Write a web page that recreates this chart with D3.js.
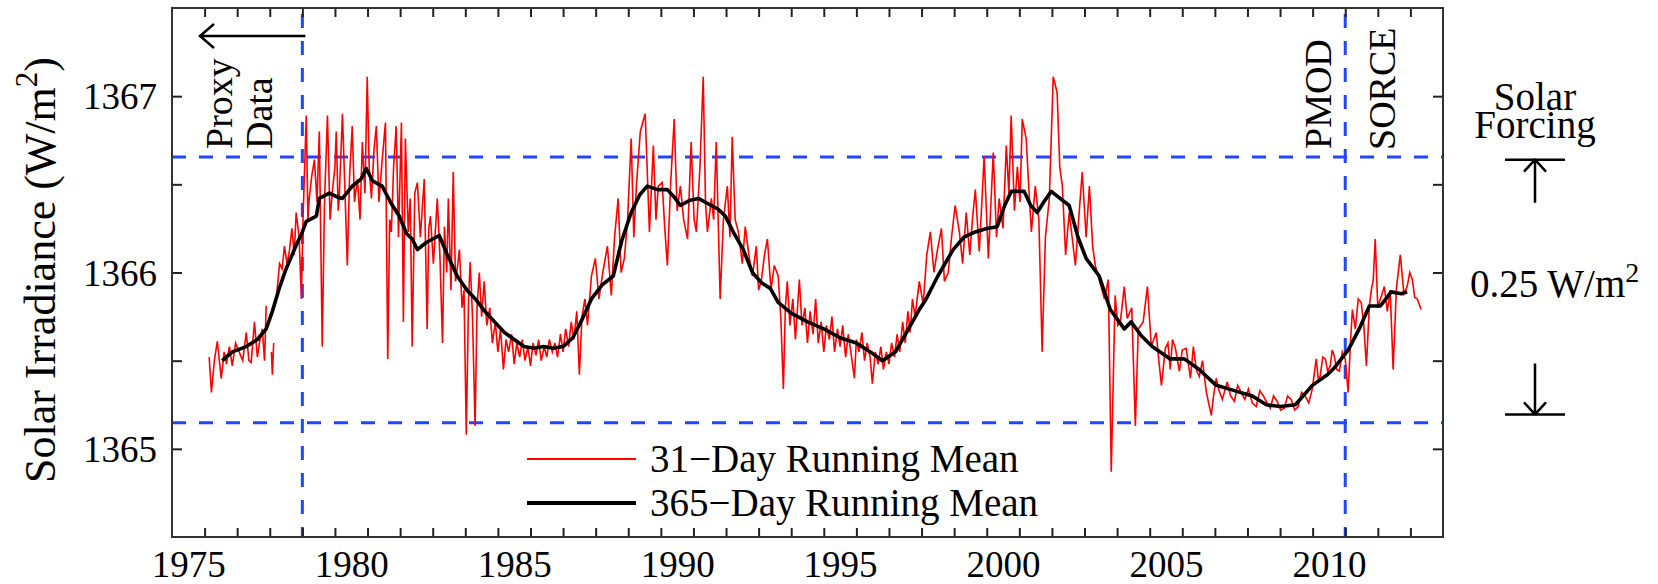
<!DOCTYPE html>
<html>
<head>
<meta charset="utf-8">
<script src="https://cdn.jsdelivr.net/npm/d3@7"></script>
<style>
body { margin: 0; background: #fff; }
svg { display: block; font-family: "Liberation Serif", "Times New Roman", serif; }
</style>
</head>
<body>
<svg id="chart" width="1658" height="584"></svg>
<script>
// 31-day running mean (null = gap in the record)
var redYears = [
  1975.64, 1975.71, 1975.80, 1975.89, 1976.01, 1976.10, 1976.17, 1976.26, 1976.35, 1976.45,
  1976.56, 1976.67, 1976.78, 1976.86, 1976.93, 1977.03, 1977.12, 1977.20, 1977.27, 1977.34,
  1977.39, 1977.45, 1977.55, 1977.58, 1977.62, 1977.66,
  1977.70, 1977.80, 1977.88, 1977.95, 1978.03, 1978.10, 1978.18, 1978.25, 1978.31, 1978.40,
  1978.47, 1978.52, 1978.62, 1978.67, 1978.71, 1978.79, 1978.87, 1978.95, 1979.02, 1979.11,
  1979.18, 1979.27, 1979.35, 1979.42, 1979.50, 1979.54, 1979.60, 1979.63, 1979.73, 1979.80,
  1979.88, 1979.95, 1980.03, 1980.10, 1980.19, 1980.27, 1980.34, 1980.42, 1980.49, 1980.55,
  1980.62, 1980.70, 1980.77, 1980.85, 1980.95, 1981.05, 1981.12, 1981.18, 1981.23, 1981.30,
  1981.38, 1981.45, 1981.54, 1981.60, 1981.66, 1981.75, 1981.81, 1981.87, 1981.95, 1982.03,
  1982.12, 1982.24, 1982.33, 1982.38, 1982.43, 1982.52, 1982.64, 1982.72, 1982.80, 1982.86,
  1982.93, 1982.98, 1983.06, 1983.13, 1983.20, 1983.27, 1983.32, 1983.40, 1983.46, 1983.53,
  1983.60, 1983.65, 1983.72, 1983.80, 1983.86, 1983.93, 1984.00, 1984.08, 1984.16, 1984.25,
  1984.33, 1984.42, 1984.50, 1984.58, 1984.67, 1984.75, 1984.83, 1984.92, 1985.00, 1985.08,
  1985.17, 1985.25, 1985.33, 1985.42, 1985.50, 1985.58, 1985.67, 1985.75, 1985.83, 1985.92,
  1986.00, 1986.08, 1986.17, 1986.25, 1986.33, 1986.42, 1986.50, 1986.58, 1986.67, 1986.75,
  1986.83, 1986.92, 1987.00, 1987.08, 1987.17, 1987.25, 1987.37, 1987.49, 1987.60, 1987.72,
  1987.86, 1987.98, 1988.08, 1988.19, 1988.28, 1988.38, 1988.48, 1988.59, 1988.67, 1988.75,
  1988.87, 1989.02, 1989.15, 1989.27, 1989.35, 1989.42, 1989.54, 1989.62, 1989.70, 1989.80,
  1989.91, 1990.00, 1990.10, 1990.20, 1990.32, 1990.43, 1990.52, 1990.59, 1990.70, 1990.80,
  1990.87, 1990.93, 1991.05, 1991.12, 1991.20, 1991.32, 1991.42, 1991.54, 1991.62, 1991.69,
  1991.78, 1991.88, 1992.00, 1992.09, 1992.20, 1992.31, 1992.43, 1992.50, 1992.58, 1992.68,
  1992.77, 1992.88, 1992.98, 1993.10, 1993.18, 1993.26, 1993.32, 1993.38, 1993.46, 1993.55,
  1993.63, 1993.75, 1993.83, 1993.92, 1994.00, 1994.08, 1994.17, 1994.25, 1994.33, 1994.42,
  1994.50, 1994.58, 1994.67, 1994.75, 1994.83, 1994.92, 1995.00, 1995.08, 1995.17, 1995.25,
  1995.33, 1995.44, 1995.50, 1995.58, 1995.67, 1995.75, 1995.83, 1995.92, 1995.99, 1996.08,
  1996.17, 1996.25, 1996.33, 1996.42, 1996.50, 1996.58, 1996.67, 1996.75, 1996.83, 1996.92,
  1997.00, 1997.08, 1997.15, 1997.22, 1997.30, 1997.43, 1997.55, 1997.66, 1997.77, 1997.88,
  1997.98, 1998.11, 1998.20, 1998.32, 1998.42, 1998.53, 1998.66, 1998.76, 1998.87, 1998.98,
  1999.06, 1999.15, 1999.27, 1999.35, 1999.42, 1999.55, 1999.63, 1999.70, 1999.80, 1999.88,
  2000.00, 2000.10, 2000.18, 2000.25, 2000.35, 2000.44, 2000.52, 2000.59, 2000.71, 2000.80,
  2000.87, 2000.99, 2001.10, 2001.20, 2001.30, 2001.42, 2001.54, 2001.66, 2001.74, 2001.82,
  2001.92, 2002.03, 2002.12, 2002.22, 2002.32, 2002.43, 2002.55, 2002.65, 2002.75, 2002.83,
  2002.95, 2003.11, 2003.23, 2003.32, 2003.44, 2003.52, 2003.60, 2003.72, 2003.81, 2003.95,
  2004.06, 2004.15, 2004.30, 2004.43, 2004.55, 2004.70, 2004.78, 2004.86, 2004.98, 2005.06,
  2005.13, 2005.20, 2005.29, 2005.41, 2005.50, 2005.62, 2005.75, 2005.84, 2005.93, 2006.02,
  2006.12, 2006.24, 2006.39, 2006.46, 2006.54, 2006.63, 2006.73, 2006.88, 2006.98, 2007.10,
  2007.20, 2007.31, 2007.42, 2007.53, 2007.65, 2007.77, 2007.88, 2007.99, 2008.10, 2008.20,
  2008.30, 2008.41, 2008.52, 2008.63, 2008.73, 2008.84, 2008.95, 2009.06, 2009.16, 2009.27,
  2009.38, 2009.49, 2009.61, 2009.67, 2009.73, 2009.81, 2009.89, 2009.96, 2010.04, 2010.10,
  2010.16, 2010.24, 2010.32, 2010.41, 2010.50, 2010.59, 2010.66, 2010.72, 2010.81, 2010.90,
  2010.99, 2011.07, 2011.15, 2011.24, 2011.30, 2011.36, 2011.42, 2011.50, 2011.58, 2011.70,
  2011.79, 2011.88, 2011.97, 2012.07, 2012.19, 2012.30, 2012.40, 2012.48, 2012.56, 2012.63,
  2012.71, 2012.83
];
var redValues = [
  1365.52, 1365.32, 1365.50, 1365.61, 1365.40, 1365.55, 1365.48, 1365.58, 1365.47, 1365.60,
  1365.55, 1365.50, 1365.66, 1365.50, 1365.49, 1365.72, 1365.52, 1365.62, 1365.68, 1365.50,
  1365.81, null, 1365.55, 1365.42, 1365.60, null,
  1365.85, 1366.05, 1366.02, 1366.15, 1366.05, 1366.12, 1366.25, 1366.10, 1366.34, 1366.20,
  1365.85, 1366.30, 1366.89, 1366.30, 1366.42, 1366.55, 1366.64, 1366.40, 1366.80, 1365.58,
  1366.40, 1366.89, 1366.30, 1366.46, 1366.60, 1366.80, 1366.35, 1366.42, 1366.90, 1366.50,
  1366.04, 1366.55, 1366.83, 1366.40, 1366.53, 1366.30, 1366.74, 1366.45, 1367.11, 1366.60,
  1366.42, 1366.70, 1366.83, 1366.40, 1366.64, 1366.85, 1365.51, 1366.30, 1366.23, 1366.60,
  1366.83, 1366.20, 1366.85, 1365.72, 1366.76, 1366.23, 1366.42, 1365.58, 1366.45, 1366.51,
  1366.20, 1366.53, 1365.68, 1366.25, 1366.32, 1366.05, 1366.42, 1366.10, 1365.60, 1366.26,
  1366.00, 1366.42, 1365.90, 1366.57, 1365.95, 1366.05, 1366.13, 1365.80, 1365.90, 1365.08,
  1365.85, 1366.06, 1365.75, 1365.13, 1365.80, 1366.00, 1365.75, 1365.95, 1365.70, 1365.80,
  1365.60, 1365.72, 1365.55, 1365.68, 1365.45, 1365.62, 1365.55, 1365.65, 1365.48, 1365.60,
  1365.52, 1365.62, 1365.50, 1365.58, 1365.47, 1365.60, 1365.53, 1365.62, 1365.50, 1365.58,
  1365.52, 1365.62, 1365.55, 1365.60, 1365.52, 1365.65, 1365.55, 1365.68, 1365.58, 1365.72,
  1365.62, 1365.78, 1365.42, 1365.75, 1365.85, 1365.70, 1365.98, 1366.08, 1365.85, 1366.00,
  1366.15, 1365.87, 1366.20, 1366.42, 1366.00, 1366.08, 1366.30, 1366.76, 1366.20, 1366.49,
  1366.80, 1366.90, 1366.23, 1366.72, 1366.30, 1366.49, 1366.51, 1366.25, 1366.04, 1366.50,
  1366.87, 1366.35, 1366.49, 1366.30, 1366.19, 1366.74, 1366.30, 1366.23, 1366.60, 1367.11,
  1366.40, 1366.23, 1366.42, 1366.30, 1366.74, 1365.85, 1366.30, 1366.49, 1366.20, 1366.77,
  1366.30, 1366.23, 1366.05, 1366.26, 1366.10, 1365.98, 1366.15, 1365.90, 1365.95, 1366.10,
  1366.19, 1365.90, 1366.04, 1365.98, 1365.75, 1365.34, 1365.80, 1365.95, 1365.70, 1365.85,
  1365.62, 1365.96, 1365.70, 1365.80, 1365.60, 1365.78, 1365.65, 1365.85, 1365.60, 1365.72,
  1365.55, 1365.70, 1365.62, 1365.75, 1365.55, 1365.68, 1365.58, 1365.70, 1365.52, 1365.65,
  1365.55, 1365.40, 1365.62, 1365.55, 1365.66, 1365.50, 1365.60, 1365.52, 1365.37, 1365.55,
  1365.48, 1365.58, 1365.45, 1365.55, 1365.48, 1365.60, 1365.52, 1365.65, 1365.55, 1365.72,
  1365.60, 1365.78, 1365.66, 1365.85, 1365.75, 1365.95, 1365.82, 1366.10, 1366.23, 1366.00,
  1366.12, 1366.25, 1365.95, 1366.00, 1366.20, 1366.38, 1366.23, 1366.05, 1366.34, 1366.10,
  1366.30, 1366.47, 1366.12, 1366.40, 1366.66, 1366.08, 1366.40, 1366.68, 1366.20, 1366.42,
  1366.25, 1366.72, 1366.45, 1366.89, 1366.35, 1366.60, 1366.40, 1366.87, 1366.76, 1366.45,
  1366.23, 1366.49, 1366.30, 1365.55, 1366.20, 1366.42, 1367.11, 1367.02, 1366.60, 1366.49,
  1366.10, 1366.34, 1366.20, 1366.04, 1366.30, 1366.57, 1366.20, 1366.49, 1366.15, 1366.04,
  1365.96, 1365.85, 1365.96, 1364.87, 1365.87, 1365.70, 1365.72, 1365.92, 1365.74, 1365.80,
  1365.13, 1365.68, 1365.72, 1365.92, 1365.58, 1365.66, 1365.50, 1365.36, 1365.57, 1365.60,
  1365.45, 1365.62, 1365.57, 1365.44, 1365.56, 1365.57, 1365.40, 1365.58, 1365.45, 1365.41,
  1365.50, 1365.32, 1365.19, 1365.30, 1365.40, 1365.33, 1365.28, 1365.38, 1365.30, 1365.27,
  1365.36, 1365.32, 1365.28, 1365.34, 1365.26, 1365.24, 1365.33, 1365.30, 1365.26, 1365.23,
  1365.30, 1365.27, 1365.22, 1365.23, 1365.30, 1365.28, 1365.22, 1365.24, 1365.32, 1365.30,
  1365.26, 1365.34, 1365.51, 1365.40, 1365.41, 1365.52, 1365.51, 1365.44, 1365.47, 1365.56,
  1365.53, 1365.45, 1365.44, 1365.55, 1365.51, 1365.32, 1365.60, 1365.79, 1365.68, 1365.85,
  1365.83, 1365.70, 1365.47, 1365.81, 1365.90, 1365.96, 1366.19, 1365.80, 1365.85, 1365.92,
  1365.78, 1365.90, 1365.45, 1365.91, 1366.10, 1365.88, 1365.92, 1366.00, 1365.96, 1365.86,
  1365.85, 1365.79
];

// 365-day running mean
var blackYears = [
  1976.04, 1976.35, 1976.78, 1977.12, 1977.39, 1977.58, 1977.79, 1978.00, 1978.30, 1978.50,
  1978.62, 1978.93, 1979.02, 1979.33, 1979.55, 1979.73, 1980.03, 1980.30, 1980.46, 1980.65,
  1980.95, 1981.20, 1981.47, 1981.70, 1981.87, 1982.03, 1982.30, 1982.50, 1982.70, 1982.95,
  1983.25, 1983.55, 1983.81, 1984.10, 1984.40, 1984.70, 1985.00, 1985.30, 1985.60, 1985.90,
  1986.20, 1986.50, 1986.80, 1987.10, 1987.37, 1987.70, 1988.04, 1988.30, 1988.59, 1988.85,
  1989.08, 1989.40, 1989.70, 1989.90, 1990.10, 1990.40, 1990.65, 1991.05, 1991.25, 1991.48,
  1991.75, 1992.03, 1992.31, 1992.60, 1992.86, 1993.10, 1993.50, 1994.00, 1994.50, 1995.00,
  1995.50, 1996.00, 1996.30, 1996.70, 1997.10, 1997.40, 1997.64, 1998.00, 1998.47, 1998.80,
  1999.15, 1999.50, 1999.82, 2000.05, 2000.25, 2000.65, 2000.85, 2001.05, 2001.25, 2001.48,
  2001.75, 2002.03, 2002.30, 2002.55, 2002.95, 2003.29, 2003.72, 2003.93, 2004.25, 2004.58,
  2005.13, 2005.56, 2006.02, 2006.54, 2007.10, 2007.65, 2008.08, 2008.51, 2008.97, 2009.49,
  2009.95, 2010.17, 2010.59, 2010.93, 2011.24, 2011.58, 2011.91, 2012.22, 2012.40
];
var blackValues = [
  1365.50, 1365.55, 1365.58, 1365.62, 1365.68, 1365.78, 1365.91, 1366.02, 1366.15, 1366.23,
  1366.29, 1366.32, 1366.42, 1366.45, 1366.43, 1366.42, 1366.49, 1366.53, 1366.59, 1366.52,
  1366.49, 1366.40, 1366.32, 1366.22, 1366.19, 1366.13, 1366.17, 1366.19, 1366.21, 1366.10,
  1365.98, 1365.90, 1365.85, 1365.78, 1365.72, 1365.66, 1365.62, 1365.58, 1365.57, 1365.58,
  1365.57, 1365.58, 1365.63, 1365.74, 1365.85, 1365.93, 1365.98, 1366.18, 1366.34, 1366.44,
  1366.49, 1366.47, 1366.47, 1366.43, 1366.38, 1366.41, 1366.42, 1366.38, 1366.36, 1366.32,
  1366.22, 1366.13, 1366.00, 1365.94, 1365.91, 1365.83, 1365.77, 1365.72, 1365.68, 1365.63,
  1365.60, 1365.54, 1365.50, 1365.55, 1365.68, 1365.78, 1365.85, 1365.98, 1366.13, 1366.20,
  1366.23, 1366.25, 1366.26, 1366.38, 1366.46, 1366.46, 1366.38, 1366.34, 1366.40, 1366.46,
  1366.42, 1366.38, 1366.20, 1366.08, 1365.98, 1365.79, 1365.68, 1365.72, 1365.64, 1365.58,
  1365.51, 1365.51, 1365.45, 1365.36, 1365.33, 1365.30, 1365.25, 1365.24, 1365.25, 1365.36,
  1365.42, 1365.46, 1365.56, 1365.68, 1365.81, 1365.81, 1365.89, 1365.88, 1365.89
];

var yearLabels = [1975, 1980, 1985, 1990, 1995, 2000, 2005, 2010];
var yearTicks = d3.range(1975.5, 2013, 1);
var valueLabels = [1365, 1366, 1367];
var valueTicks = [1365, 1365.5, 1366, 1366.5, 1367];
var dividerYears = [1978.5, 2010.5];
var forcingLevels = [1366.655, 1365.148];
var legendNames = ["31\u2212Day Running Mean", "365\u2212Day Running Mean"];
var legendColors = ["#ff0000", "#000000"];

var svg = d3.select("#chart");
var plotLeft = 172, plotRight = 1443, plotTop = 8, plotBottom = 537;

var x = d3.scaleLinear().domain([1974.5, 2013.5]).range([plotLeft, plotRight]);
var y = d3.scaleLinear().domain([1364.5, 1367.5]).range([plotBottom, plotTop]);

svg.append("rect").attr("width", 1658).attr("height", 584).attr("fill", "#fff");

// dashed guides
svg.selectAll(".hguide").data(forcingLevels).enter().append("line")
  .attr("x1", plotLeft).attr("x2", plotRight)
  .attr("y1", d => y(d)).attr("y2", d => y(d))
  .attr("stroke", "#2146ff").attr("stroke-width", 3).attr("stroke-dasharray", "14,13");
svg.selectAll(".vguide").data(dividerYears).enter().append("line")
  .attr("x1", d => x(d)).attr("x2", d => x(d))
  .attr("y1", plotTop + 6).attr("y2", plotBottom)
  .attr("stroke", "#2146ff").attr("stroke-width", 3).attr("stroke-dasharray", "14,13");

// series
var red = redYears.map((d, i) => [d, redValues[i]]);
var black = blackYears.map((d, i) => [d, blackValues[i]]);
var line = d3.line().defined(d => d[1] != null).x(d => x(d[0])).y(d => y(d[1]));

svg.append("path").datum(red).attr("d", line)
  .attr("fill", "none").attr("stroke", "#ff0000").attr("stroke-width", 1.6);
svg.append("path").datum(black).attr("d", line)
  .attr("fill", "none").attr("stroke", "#000").attr("stroke-width", 3.6).attr("stroke-linejoin", "round");

// axes
function style(g) {
  g.select(".domain").remove();
  g.selectAll(".tick line").attr("stroke", "#222").attr("stroke-width", 2);
  g.selectAll("text").attr("fill", "#000").attr("font-family", "Liberation Serif, serif");
}
svg.append("g").attr("transform", "translate(0," + plotBottom + ")")
  .call(d3.axisBottom(x).tickValues(yearTicks).tickSize(-9).tickFormat(""))
  .call(style);
svg.append("g").attr("transform", "translate(0," + plotTop + ")")
  .call(d3.axisTop(x).tickValues(yearTicks).tickSize(-9).tickFormat(""))
  .call(style);
svg.append("g").attr("transform", "translate(0," + plotBottom + ")")
  .call(d3.axisBottom(x).tickValues(yearLabels).tickSize(0).tickFormat(d3.format("d")))
  .call(style)
  .call(g => g.selectAll("text").attr("font-size", 37).attr("y", 40).attr("dy", 0));
svg.append("g").attr("transform", "translate(" + plotLeft + ",0)")
  .call(d3.axisLeft(y).tickValues(valueTicks).tickSize(-10).tickPadding(15)
    .tickFormat(d => valueLabels.indexOf(d) >= 0 ? d : ""))
  .call(style)
  .call(g => g.selectAll("text").attr("font-size", 37).attr("dy", "0.34em"));
svg.append("g").attr("transform", "translate(" + plotRight + ",0)")
  .call(d3.axisRight(y).tickValues(valueTicks).tickSize(-10).tickFormat(""))
  .call(style);

svg.append("rect").attr("x", plotLeft).attr("y", plotTop)
  .attr("width", plotRight - plotLeft).attr("height", plotBottom - plotTop)
  .attr("fill", "none").attr("stroke", "#333").attr("stroke-width", 2);

// y title
var title = svg.append("text").attr("transform", "translate(55,270) rotate(-90)")
  .attr("text-anchor", "middle").attr("font-size", 44);
title.append("tspan").text("Solar Irradiance (W/m");
title.append("tspan").attr("dy", -18).attr("font-size", 31).text("2");
title.append("tspan").attr("dy", 18).text(")");

// vertical labels
function vlabel(px, py, txt) {
  svg.append("text").attr("transform", "translate(" + px + "," + py + ") rotate(-90)")
    .attr("font-size", 38).text(txt);
}
vlabel(232, 149, "Proxy");
vlabel(272, 149, "Data");
vlabel(1331, 149, "PMOD");
vlabel(1395, 150, "SORCE");

// proxy arrow
var arrowY = 36;
svg.append("path")
  .attr("d", "M" + (x(dividerYears[0]) + 3) + "," + arrowY + "H" + 200 +
    "M214," + (arrowY - 12) + "L200," + arrowY + "L214," + (arrowY + 12))
  .attr("fill", "none").attr("stroke", "#000").attr("stroke-width", 2.5);

// solar forcing annotation
var fx = 1535;
svg.append("text").attr("x", fx).attr("y", 110).attr("text-anchor", "middle").attr("font-size", 39).text("Solar");
svg.append("text").attr("x", fx).attr("y", 138).attr("text-anchor", "middle").attr("font-size", 39).text("Forcing");
var upY = y(1366.64), downY = y(1365.195);
svg.append("path")
  .attr("d", "M1505," + upY + "H1565M" + fx + "," + upY + "V" + (upY + 43) +
    "M" + (fx - 11) + "," + (upY + 12) + "L" + fx + "," + upY + "L" + (fx + 11) + "," + (upY + 12))
  .attr("fill", "none").attr("stroke", "#000").attr("stroke-width", 2.5);
svg.append("path")
  .attr("d", "M1505," + downY + "H1565M" + fx + "," + downY + "V" + (downY - 51) +
    "M" + (fx - 11) + "," + (downY - 12) + "L" + fx + "," + downY + "L" + (fx + 11) + "," + (downY - 12))
  .attr("fill", "none").attr("stroke", "#000").attr("stroke-width", 2.5);
var fl = svg.append("text").attr("x", 1470).attr("y", 297).attr("font-size", 39);
fl.append("tspan").text("0.25 W/m");
fl.append("tspan").attr("dy", -15).attr("font-size", 28).text("2");

// legend
var legend = svg.selectAll(".legend").data(legendNames).enter().append("g")
  .attr("transform", (d, i) => "translate(0," + (459 + i * 44) + ")");
legend.append("line").attr("x1", 527).attr("x2", 636)
  .attr("stroke", (d, i) => legendColors[i]).attr("stroke-width", (d, i) => i ? 4 : 1.8);
legend.append("text").attr("x", 650).attr("y", 13).attr("font-size", 39).text(d => d);
</script>
</body>
</html>
